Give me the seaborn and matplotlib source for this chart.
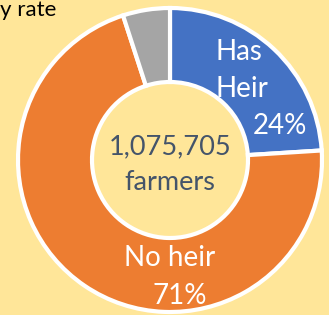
import matplotlib
matplotlib.use("Agg")
import matplotlib.pyplot as plt
import seaborn as sns

categories = ["Has Heir", "No heir", "Unknown"]
shares = [24, 71, 5]
total_farmers = "1,075,705"
center_unit = "farmers"
title_text = "y rate"

sns.set_theme(style="white")
plt.rcParams['font.family'] = ['Lato', 'DejaVu Sans']

colors = ["#4472C4", "#ED7D31", "#A5A5A5"]
bg = "#FFE699"

W, H = 329, 315
fig = plt.figure(figsize=(W / 100, H / 100), dpi=100)
fig.patch.set_facecolor(bg)
ax = fig.add_axes([0, 0, 1, 1])
ax.set_facecolor(bg)

cx, cy, R = 170, H - 160, 152
ax.pie(shares, colors=colors, startangle=90, counterclock=False,
       center=(cx, cy), radius=R, frame=True,
       wedgeprops=dict(width=74, edgecolor="white", linewidth=3))
ax.set_xlim(0, W)
ax.set_ylim(0, H)
ax.set_aspect("equal")
ax.axis("off")

ax.text(cx, H - 147, total_farmers, ha="center", va="center", fontsize=19.5, color="#44546A")
ax.text(cx, H - 182, center_unit, ha="center", va="center", fontsize=19.5, color="#44546A")

txt = dict(color="white", fontsize=20, va="center")
ax.text(216, H - 52, "Has", ha="left", **txt)
ax.text(216, H - 89, "Heir", ha="left", **txt)
ax.text(280, H - 126, f"{shares[0]}%", ha="center", **txt)
ax.text(170, H - 258, "No heir", ha="center", **txt)
ax.text(180, H - 296, f"{shares[1]}%", ha="center", **txt)

fig.text(0, 1 - 0.5 / H, title_text, ha="left", va="top", fontsize=16, color="black")

fig.savefig("out.png", dpi=100, facecolor=bg)
